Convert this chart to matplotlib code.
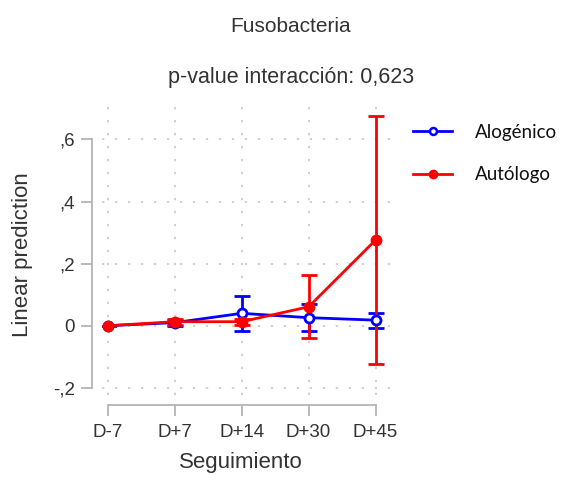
import matplotlib
matplotlib.use("Agg")
import matplotlib.pyplot as plt
from matplotlib.lines import Line2D
import numpy as np

plt.rcParams["font.family"] = ["Liberation Sans", "DejaVu Sans"]

# Follow-up visits and margins (linear prediction with 95% CI)
visits = ["D-7", "D+7", "D+14", "D+30", "D+45"]

alo_pred = [0.0, 0.010, 0.040, 0.026, 0.018]
alo_lo = [0.0, 0.000, -0.016, -0.017, -0.006]
alo_hi = [0.0, 0.020, 0.096, 0.069, 0.042]

auto_pred = [0.0, 0.013, 0.013, 0.061, 0.276]
auto_lo = [0.0, 0.003, 0.003, -0.039, -0.124]
auto_hi = [0.0, 0.023, 0.023, 0.163, 0.676]

yticks = [-0.2, 0.0, 0.2, 0.4, 0.6]
ytick_labels = ["-,2", "0", ",2", ",4", ",6"]

title = "Fusobacteria"
subtitle = "p-value interacción: 0,623"

W, H = 565, 484
fig = plt.figure(figsize=(W / 100, H / 100), dpi=100)
ax = fig.add_axes([101.7 / W, 1 - 395 / H, 291.3 / W, 291 / H])

x = np.arange(len(visits))


def draw(pred, lo, hi, color, face):
    pred = np.array(pred)
    err = np.vstack([pred - np.array(lo), np.array(hi) - pred])
    ax.errorbar(x, pred, yerr=err, color=color, lw=2, elinewidth=2,
                capsize=5.5, capthick=2, marker="o", markersize=6.5,
                markerfacecolor=face, markeredgecolor=color,
                markeredgewidth=2, zorder=3)


draw(alo_pred, alo_lo, alo_hi, "#0000ff", "white")
draw(auto_pred, auto_lo, auto_hi, "#ff0000", "#ff0000")

ax.set_xlim(-0.09, 4.26)
ax.set_ylim(-0.223, 0.714)
ax.set_xticks(x)
ax.set_xticklabels(visits)
ax.set_yticks(yticks)
ax.set_yticklabels(ytick_labels)

ax.grid(True, color="#c4c4c4", linestyle=(0, (1.5, 7)), lw=1.1)
ax.set_axisbelow(True)

for s in ["top", "right"]:
    ax.spines[s].set_visible(False)
for s in ["left", "bottom"]:
    ax.spines[s].set_position(("outward", 7.2))
    ax.spines[s].set_color("#b4b4b4")
    ax.spines[s].set_linewidth(1.3)
ax.spines["left"].set_bounds(-0.2, 0.6)
ax.spines["bottom"].set_bounds(0, 4)

ax.tick_params(axis="both", length=8, width=1.3, color="#b4b4b4",
               labelsize=13.5, labelcolor="#333333")
ax.tick_params(axis="x", pad=6)
ax.tick_params(axis="y", pad=4)

ax.set_ylabel("Linear prediction", fontsize=16, color="#333333")
ax.yaxis.set_label_coords(-0.235, 0.481)
ax.set_xlabel("Seguimiento", fontsize=16, color="#333333")
ax.xaxis.set_label_coords(0.478, -0.195)

fig.text(291 / W, 1 - 26 / H, title, ha="center", va="center",
         fontsize=15, color="#333333")
fig.text(291 / W, 1 - 77 / H, subtitle, ha="center", va="center",
         fontsize=15.5, color="#333333")

handles = [
    Line2D([], [], color="#0000ff", lw=2, marker="o", markersize=5,
           markerfacecolor="white", markeredgewidth=1.8),
    Line2D([], [], color="#ff0000", lw=2, marker="o", markersize=6,
           markerfacecolor="#ff0000"),
]
leg = ax.legend(handles, ["Alogénico", "Autólogo"], loc="upper left",
                bbox_to_anchor=(413 / W, 1 - 124 / H),
                bbox_transform=fig.transFigure, frameon=False, borderpad=0,
                borderaxespad=0, handlelength=2.1, handletextpad=1.2,
                labelspacing=1.35, prop={"family": "Lato", "size": 13.5})
for t in leg.get_texts():
    t.set_color("#111111")

fig.savefig("out.png", dpi=100)
